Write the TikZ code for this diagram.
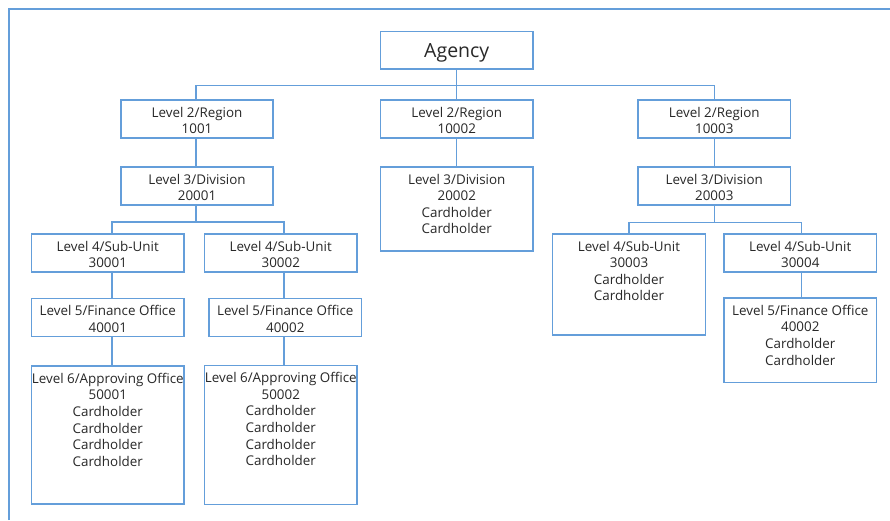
\documentclass[tikz,border=0pt]{standalone}
\usepackage{fontspec}
\setmainfont{Open Sans}
\usetikzlibrary{fit}

\definecolor{orgline}{RGB}{100,158,218}
\definecolor{orgtext}{RGB}{40,40,40}

\tikzset{
  orgframe/.style={draw=orgline, line width=1.4pt},
  box/.style={draw=orgline, line width=1.4pt, inner sep=0pt, fill=white},
  txt/.style={anchor=north, align=center, inner sep=0pt, text=orgtext,
    font=\fontsize{13.4}{16.6}\selectfont},
  link/.style={draw=orgline, line width=1.4pt},
}

% box from its corners, with its text hung from the top edge
\newcommand\orgbox[6]{%
  \node[box, fit={(#2,#3)(#4,#5)}] (#1) {};
  \node[txt] (#1-t) at ([yshift=-7.5pt]#1.north) {#6};}

\begin{document}
\begin{tikzpicture}[x=1pt, y=-1pt]
\useasboundingbox (0,0) rectangle (890,520);

% open frame round the chart
\coordinate (frA) at (9,520);
\coordinate (frB) at (9,9);
\coordinate (frC) at (890,9);
\draw[orgframe] (frA) -- (frB) -- (frC);

% top
\node[box, fit={(380.5,31.5)(533,69)}] (ag) {};
\node[text=orgtext, font=\fontsize{19.5}{22}\selectfont, inner sep=0pt, anchor=base]
  (ag-t) at ([yshift=-7pt]ag.center) {Agency};

% level 2
\orgbox{r1}{121}{100}{273}{138}{Level 2/Region\\1001}
\orgbox{r2}{380.5}{100}{533}{138}{Level 2/Region\\10002}
\orgbox{r3}{638}{100}{790.5}{138}{Level 2/Region\\10003}

% level 3
\orgbox{d1}{121}{167}{273}{205}{Level 3/Division\\20001}
\orgbox{d2}{380.5}{167}{533}{251}{Level 3/Division\\20002\\Cardholder\\Cardholder}
\orgbox{d3}{638}{167}{790.5}{205}{Level 3/Division\\20003}

% level 4
\orgbox{s1}{31.5}{234}{184}{272}{Level 4/Sub-Unit\\30001}
\orgbox{s2}{204.5}{234}{357}{272}{Level 4/Sub-Unit\\30002}
\orgbox{s3}{552.5}{234}{705.5}{335}{Level 4/Sub-Unit\\30003\\Cardholder\\Cardholder}
\orgbox{s4}{724}{234}{876.5}{272}{Level 4/Sub-Unit\\30004}

% level 5
\orgbox{f1}{31.5}{298.5}{184}{336.5}{Level 5/Finance Office\\40001}
\orgbox{f2}{209}{298.5}{361.5}{336.5}{Level 5/Finance Office\\40002}
\orgbox{f4}{724}{298}{876.5}{382.5}{Level 5/Finance Office\\40002\\Cardholder\\Cardholder}

% level 6
\orgbox{a1}{31.5}{366}{184}{504}{Level 6/Approving Office\\50001\\Cardholder\\Cardholder\\Cardholder\\Cardholder}
\orgbox{a2}{204.5}{365.5}{357}{504.5}{Level 6/Approving Office\\50002\\Cardholder\\Cardholder\\Cardholder\\Cardholder}

% bus lines and column positions
\coordinate (busA) at (0,85.5);
\coordinate (busB) at (0,222);
\coordinate (busC) at (0,222.5);
\coordinate (c1) at (112,0);
\coordinate (c2) at (284,0);
\coordinate (c3) at (629,0);
\coordinate (c4) at (801.5,0);
\coordinate (cr1) at (196,0);

% agency to regions
\draw[link] (ag.south) -- (ag.south |- busA);
\draw[link] (r1.north -| cr1) |- (busA -| r3.north) -- (r3.north);
\draw[link] (r2.north) -- (r2.north |- busA);

% regions to divisions
\draw[link] (r1.south -| cr1) -- (d1.north -| cr1);
\draw[link] (r2.south) -- (d2.north);
\draw[link] (r3.south) -- (d3.north);

% division 20001 to its sub-units
\draw[link] (d1.south -| cr1) -- (busB -| cr1);
\draw[link] (s1.north -| c1) |- (busB -| c2) -- (s2.north -| c2);
\draw[link] (s1.south -| c1) -- (f1.north -| c1);
\draw[link] (f1.south -| c1) -- (a1.north -| c1);
\draw[link] (s2.south -| c2) -- (f2.north -| c2);
\draw[link] (f2.south -| c2) -- (a2.north -| c2);

% division 20003 to its sub-units
\draw[link] (d3.south) -- (d3.south |- busC);
\draw[link] (s3.north -| c3) |- (busC -| c4) -- (s4.north -| c4);
\draw[link] (s4.south -| c4) -- (f4.north -| c4);
\end{tikzpicture}
\end{document}
